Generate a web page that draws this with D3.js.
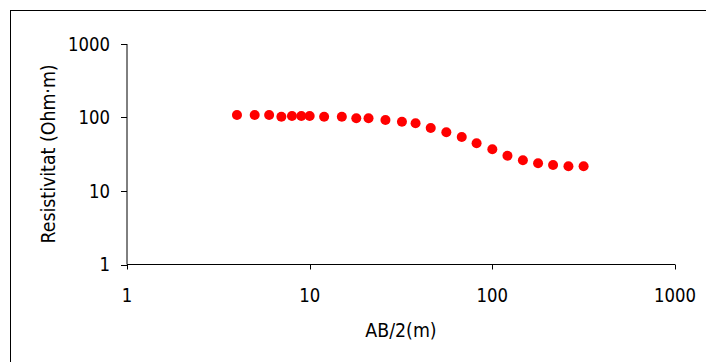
<!DOCTYPE html>
<html>
<head>
<meta charset="utf-8">
<script src="https://cdn.jsdelivr.net/npm/d3@7"></script>
<style>
  body { margin: 0; background: #fff; }
  text { font-family: "DejaVu Sans", Verdana, sans-serif; fill: #000; }
</style>
</head>
<body>
<div id="chart"></div>
<script>
const width = 706;
const height = 362;

// AB/2 spacing (m) and apparent resistivity (Ohm·m)
const abHalf = [4, 5, 6, 7, 8, 9, 10, 12, 15, 18, 21, 26, 32, 38, 46, 56, 68, 82, 100, 121, 147, 178, 215, 261, 316];
const resistivity = [108, 108, 108, 102.5, 105, 105, 105, 102.5, 102.5, 97.5, 97.5, 92.5, 87.7, 83.4, 72, 63, 54.3, 44.6, 36.9, 30.2, 26.2, 23.8, 22.6, 21.7, 21.7];
const tickValues = [1, 10, 100, 1000];

const xTitle = "AB/2(m)";
const yTitle = "Resistivitat (Ohm·m)";

const squeeze = 0.87; // narrow the glyphs a bit, the original used a tahoma-like face

const svg = d3.select("#chart")
    .append("svg")
    .attr("width", width)
    .attr("height", height);

// outer frame, runs off the right and bottom edges
svg.append("rect")
    .attr("x", 10.5)
    .attr("y", 10.5)
    .attr("width", 800)
    .attr("height", 400)
    .attr("fill", "none")
    .attr("stroke", "#000")
    .attr("stroke-width", 1);

const x = d3.scaleLog()
    .domain([1, 1000])
    .range([127, 675]);

const y = d3.scaleLog()
    .domain([1, 1000])
    .range([264.5, 44]);

// y axis
svg.append("line")
    .attr("x1", x(1)).attr("x2", x(1))
    .attr("y1", y(1)).attr("y2", y(1000))
    .attr("stroke", "#000");

svg.selectAll(".ytick")
    .data(tickValues)
    .enter().append("line")
    .attr("x1", x(1) - 6).attr("x2", x(1))
    .attr("y1", d => Math.round(y(d)) + 0.5)
    .attr("y2", d => Math.round(y(d)) + 0.5)
    .attr("stroke", "#000");

svg.selectAll(".ylab")
    .data(tickValues)
    .enter().append("text")
    .attr("transform", d => `translate(110,${y(d)}) scale(${squeeze},1)`)
    .attr("text-anchor", "end")
    .attr("dy", "0.36em")
    .style("font-size", "19px")
    .text(d => d);

// x axis
svg.append("line")
    .attr("x1", x(1)).attr("x2", x(1000))
    .attr("y1", y(1)).attr("y2", y(1))
    .attr("stroke", "#000");

svg.selectAll(".xtick")
    .data(tickValues)
    .enter().append("line")
    .attr("x1", d => Math.round(x(d)) + 0.5)
    .attr("x2", d => Math.round(x(d)) + 0.5)
    .attr("y1", y(1)).attr("y2", y(1) + 5)
    .attr("stroke", "#000");

svg.selectAll(".xlab")
    .data(tickValues)
    .enter().append("text")
    .attr("transform", d => `translate(${x(d)},302) scale(${squeeze},1)`)
    .attr("text-anchor", "middle")
    .style("font-size", "19px")
    .text(d => d);

// titles
svg.append("text")
    .attr("transform", `translate(401,337) scale(${squeeze},1)`)
    .attr("text-anchor", "middle")
    .style("font-size", "20px")
    .text(xTitle);

svg.append("text")
    .attr("transform", `translate(54.5,154) rotate(-90) scale(${squeeze},1)`)
    .attr("text-anchor", "middle")
    .style("font-size", "20px")
    .text(yTitle);

// data points
svg.selectAll(".pt")
    .data(abHalf.map((d, i) => ({ ab: d, rho: resistivity[i] })))
    .enter().append("circle")
    .attr("cx", d => x(d.ab))
    .attr("cy", d => y(d.rho))
    .attr("r", 5)
    .attr("fill", "#ff0000");
</script>
</body>
</html>
